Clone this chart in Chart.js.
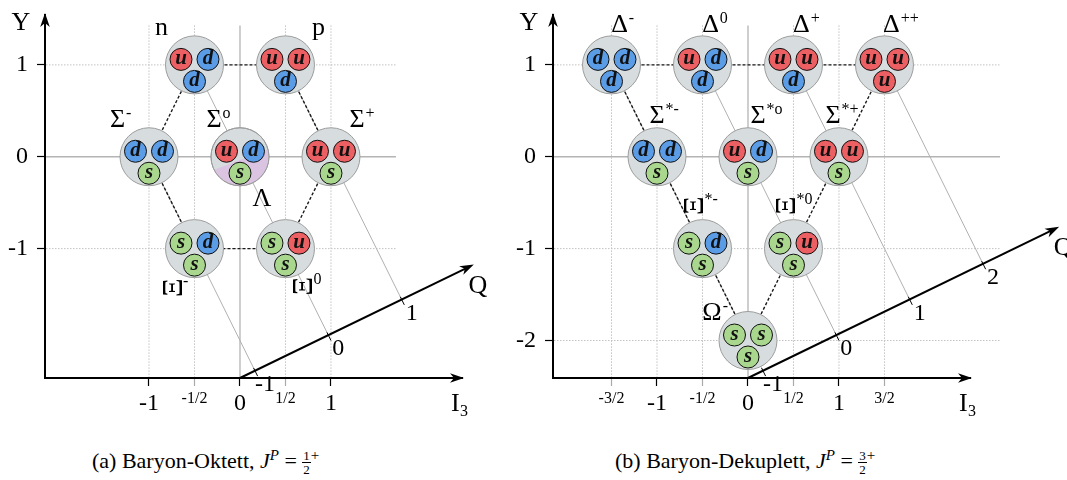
<!DOCTYPE html>
<html>
<head>
<meta charset="utf-8">
<script src="https://cdn.jsdelivr.net/npm/chart.js@4.4.1/dist/chart.umd.min.js"></script>
<style>
  html, body { margin: 0; padding: 0; background: #fff; }
  body { width: 1067px; height: 480px; position: relative; overflow: hidden; font-family: "Liberation Serif", serif; color: #000; }
  canvas { position: absolute; top: 0; }
  .cap { position: absolute; top: 449px; font-size: 22px; line-height: 22px; white-space: nowrap; }
  .cap sup { font-size: 15px; vertical-align: 8px; line-height: 0; }
  .frac { display: inline-block; vertical-align: -6px; text-align: center; font-size: 13px; line-height: 13px; }
  .frac span { display: block; padding: 0 1px; }
  .frac .num { border-bottom: 1px solid #000; }
</style>
</head>
<body>
<canvas id="octetChart" width="508" height="440" style="left:0"></canvas>
<canvas id="decupletChart" width="559" height="440" style="left:508px"></canvas>
<div class="cap" style="left:92px">(a) Baryon-Oktett, <i>J</i><sup><i>P</i></sup> = <span class="frac"><span class="num">1</span><span>2</span></span><sup>+</sup></div>
<div class="cap" style="left:615px">(b) Baryon-Dekuplett, <i>J</i><sup><i>P</i></sup> = <span class="frac"><span class="num">3</span><span>2</span></span><sup>+</sup></div>
<script>
// --- Baryon-Oktett ---
const octetNames = ['n', 'p', 'Σ', 'Σ', 'Σ', 'Ξ', 'Ξ'];
const octetSup = ['', '', '-', 'o', '+', '-', '0'];
const octetI3 = [-0.5, 0.5, -1, 0, 1, -0.5, 0.5];
const octetY = [1, 1, 0, 0, 0, -1, -1];
const octetQuarks = ['udd', 'uud', 'dds', 'uds', 'uus', 'sds', 'sus'];
const octetEdges = [[0, 1], [1, 4], [4, 6], [6, 5], [5, 2], [2, 0]];
const octetQTicks = [-1, 0, 1];
const octetXTicks = [-1, -0.5, 0, 0.5, 1];
const octetXLabels = ['-1', '-1/2', '0', '1/2', '1'];
const octetYTicks = [1, 0, -1];
const lambdaName = 'Λ';

// --- Baryon-Dekuplett ---
const decupletNames = ['Δ', 'Δ', 'Δ', 'Δ', 'Σ', 'Σ', 'Σ', 'Ξ', 'Ξ', 'Ω'];
const decupletSup = ['-', '0', '+', '++', '*-', '*o', '*+', '*-', '*0', '-'];
const decupletI3 = [-1.5, -0.5, 0.5, 1.5, -1, 0, 1, -0.5, 0.5, 0];
const decupletY = [1, 1, 1, 1, 0, 0, 0, -1, -1, -2];
const decupletQuarks = ['ddd', 'udd', 'uud', 'uuu', 'dds', 'uds', 'uus', 'sds', 'sus', 'sss'];
const decupletEdges = [[0, 1], [1, 2], [2, 3], [0, 4], [4, 7], [7, 9], [3, 6], [6, 8], [8, 9]];
const decupletQTicks = [-1, 0, 1, 2];
const decupletXTicks = [-1.5, -1, -0.5, 0, 0.5, 1, 1.5];
const decupletXLabels = ['-3/2', '-1', '-1/2', '0', '1/2', '1', '3/2'];
const decupletYTicks = [1, 0, -1, -2];

// Achsenbereich und Layout
const X_MIN = -2.143, X_MAX = 2.44, Y_MIN = -2.408, Y_MAX = 1.543;
const GRID_TOP = 1.43;
const Q_SLOPE = 0.481;           // Steigung der Q-Achse im (I3, Y)-System
const BIG_R = 29, SMALL_R = 11;
const QUARK_OFFSETS = [[-13.5, -5.5], [13.5, -5.5], [0, 16.5]];
const QUARK_COLORS = { u: '#ec5f63', d: '#5b9ce6', s: '#a9d78e' };
const SERIF = '"Liberation Serif", "Times New Roman", serif';

// Beschriftungs-Offsets (px) relativ zum Teilchen
const octetLabelPos = [[-33, -30], [33, -30], [-31.5, -30], [-26, -30], [26, -30], [-20.5, 39], [19, 37.5]];
const lambdaPos = [22, 49];
const decupletLabelPos = [[8, -33], [8, -33], [8, -33], [7, -33], [0, -34], [10, -34], [-6, -34], [-7, -43], [-6, -43], [-36, -21]];

function px(chart, x, y) {
    return [chart.scales.x.getPixelForValue(x), chart.scales.y.getPixelForValue(y)];
}

function arrowHead(ctx, x, y, ang) {
    ctx.save();
    ctx.translate(x, y);
    ctx.rotate(ang);
    ctx.beginPath();
    ctx.moveTo(1, 0);
    ctx.lineTo(-13, -4.8);
    ctx.lineTo(-9, 0);
    ctx.lineTo(-13, 4.8);
    ctx.closePath();
    ctx.fillStyle = '#000';
    ctx.fill();
    ctx.restore();
}

function drawLabel(ctx, name, sup, x, y, rotated) {
    ctx.fillStyle = '#000';
    if (rotated) {
        ctx.font = '29px ' + SERIF;
        ctx.save();
        ctx.translate(x, y);
        ctx.rotate(-Math.PI / 2);
        ctx.textAlign = 'center';
        ctx.textBaseline = 'middle';
        ctx.fillText(name, 0, 0);
        ctx.restore();
        ctx.font = '16px ' + SERIF;
        ctx.textAlign = 'left';
        ctx.textBaseline = 'alphabetic';
        ctx.fillText(sup, x + 9, y - 2);
        return;
    }
    ctx.font = '26px ' + SERIF;
    ctx.textAlign = 'center';
    ctx.textBaseline = 'alphabetic';
    ctx.fillText(name, x, y);
    const w = ctx.measureText(name).width;
    if (sup) {
        ctx.font = '16px ' + SERIF;
        ctx.textAlign = 'left';
        ctx.fillText(sup, x + w / 2 + 1, y - 9);
    }
}

const baryonPlugin = {
    id: 'baryon',
    beforeDatasetsDraw(chart, args, o) {
        const ctx = chart.ctx;
        const area = chart.chartArea;
        ctx.save();

        // Hilfsgitter
        o.yTicks.forEach(v => {
            const [x0, y] = px(chart, X_MIN, v);
            const [x1] = px(chart, o.gridRight, v);
            ctx.beginPath();
            ctx.setLineDash(v === 0 ? [] : [1.5, 1.5]);
            ctx.strokeStyle = v === 0 ? '#b4b4b4' : '#c2c2c2';
            ctx.lineWidth = v === 0 ? 1.3 : 1;
            ctx.moveTo(x0 + 1, y);
            ctx.lineTo(x1, y);
            ctx.stroke();
        });
        o.xTicks.forEach(v => {
            const [x, y0] = px(chart, v, GRID_TOP);
            ctx.beginPath();
            ctx.setLineDash(v === 0 ? [] : [1.5, 1.5]);
            ctx.strokeStyle = v === 0 ? '#b4b4b4' : '#c2c2c2';
            ctx.lineWidth = v === 0 ? 1.3 : 1;
            ctx.moveTo(x, y0);
            ctx.lineTo(x, area.bottom - 1);
            ctx.stroke();
        });
        ctx.setLineDash([]);

        // Linien konstanter Ladung Q = I3 + Y/2
        o.qTicks.forEach(q => {
            let top = -1;
            o.i3.forEach((x, i) => {
                if (Math.abs(x + o.y[i] / 2 - q) < 1e-6 && (top < 0 || o.y[i] > o.y[top])) top = i;
            });
            const qi = (q - Y_MIN / 2) / (1 + Q_SLOPE / 2);
            const [ax, ay] = px(chart, qi, Y_MIN + Q_SLOPE * qi);
            if (top >= 0) {
                const [sx, sy] = px(chart, o.i3[top], o.y[top]);
                ctx.beginPath();
                ctx.strokeStyle = '#b0b0b0';
                ctx.lineWidth = 1;
                ctx.moveTo(sx, sy);
                ctx.lineTo(ax, ay);
                ctx.stroke();
            }
            // kleiner Strich auf der Q-Achse
            const [dx, dy] = px(chart, qi + 1, Y_MIN + Q_SLOPE * qi - 2);
            const len = Math.hypot(dx - ax, dy - ay);
            const ux = (dx - ax) / len, uy = (dy - ay) / len;
            ctx.beginPath();
            ctx.strokeStyle = '#000';
            ctx.lineWidth = 1;
            ctx.moveTo(ax - 3 * ux, ay - 3 * uy);
            ctx.lineTo(ax + 6 * ux, ay + 6 * uy);
            ctx.stroke();
            ctx.fillStyle = '#000';
            ctx.font = '24px ' + SERIF;
            ctx.textAlign = 'center';
            ctx.textBaseline = 'middle';
            ctx.fillText(String(q), ax + 10, ay + 14);
        });

        // gestrichelte Multiplett-Kanten
        ctx.setLineDash([3, 2]);
        ctx.strokeStyle = '#1a1a1a';
        ctx.lineWidth = 1.4;
        o.edges.forEach(([a, b]) => {
            const [x0, y0] = px(chart, o.i3[a], o.y[a]);
            const [x1, y1] = px(chart, o.i3[b], o.y[b]);
            ctx.beginPath();
            ctx.moveTo(x0, y0);
            ctx.lineTo(x1, y1);
            ctx.stroke();
        });
        ctx.setLineDash([]);

        // Q-Achse
        const [qx0, qy0] = px(chart, 0, Y_MIN);
        const [qx1, qy1] = px(chart, o.qEnd, Y_MIN + Q_SLOPE * o.qEnd);
        ctx.beginPath();
        ctx.strokeStyle = '#000';
        ctx.lineWidth = 2;
        ctx.moveTo(qx0, qy0);
        ctx.lineTo(qx1 - 6, qy1 + 6 * (qy0 - qy1) / (qx1 - qx0));
        ctx.stroke();
        arrowHead(ctx, qx1, qy1, Math.atan2(qy1 - qy0, qx1 - qx0));
        ctx.font = '26px ' + SERIF;
        ctx.textAlign = 'center';
        ctx.textBaseline = 'middle';
        ctx.fillText('Q', qx1 + 5, qy1 + 21);
        ctx.restore();
    },
    afterDatasetsDraw(chart, args, o) {
        const ctx = chart.ctx;
        const area = chart.chartArea;
        ctx.save();

        // Λ-Anteil im Σ0-Kreis
        if (o.lambdaIndex >= 0) {
            const [cx, cy] = px(chart, o.i3[o.lambdaIndex], o.y[o.lambdaIndex]);
            ctx.save();
            ctx.beginPath();
            ctx.arc(cx, cy, BIG_R - 0.5, 0, Math.PI * 2);
            ctx.clip();
            ctx.translate(cx, cy);
            ctx.rotate(-0.36);
            ctx.fillStyle = '#dbc3e2';
            ctx.fillRect(-BIG_R - 4, 3, 2 * BIG_R + 8, BIG_R + 4);
            ctx.restore();
            ctx.beginPath();
            ctx.arc(cx, cy, BIG_R, 0, Math.PI * 2);
            ctx.strokeStyle = '#9c9c9c';
            ctx.lineWidth = 1;
            ctx.stroke();
        }

        // Quarks
        o.quarks.forEach((qs, i) => {
            const [cx, cy] = px(chart, o.i3[i], o.y[i]);
            qs.split('').forEach((q, k) => {
                const x = cx + QUARK_OFFSETS[k][0], y = cy + QUARK_OFFSETS[k][1];
                ctx.beginPath();
                ctx.arc(x, y, SMALL_R, 0, Math.PI * 2);
                ctx.fillStyle = QUARK_COLORS[q];
                ctx.fill();
                ctx.strokeStyle = '#111';
                ctx.lineWidth = 1;
                ctx.stroke();
                ctx.fillStyle = '#111';
                ctx.font = 'italic bold 21px ' + SERIF;
                ctx.textAlign = 'center';
                ctx.textBaseline = 'alphabetic';
                ctx.fillText(q, x, y + 5);
            });
        });

        // Teilchennamen
        o.names.forEach((n, i) => {
            const [cx, cy] = px(chart, o.i3[i], o.y[i]);
            drawLabel(ctx, n, o.sup[i], cx + o.labelPos[i][0], cy + o.labelPos[i][1], n === 'Ξ');
        });
        if (o.lambdaIndex >= 0) {
            const [cx, cy] = px(chart, o.i3[o.lambdaIndex], o.y[o.lambdaIndex]);
            drawLabel(ctx, lambdaName, '', cx + lambdaPos[0], cy + lambdaPos[1], false);
        }

        // Achsenpfeile und Achsentitel
        arrowHead(ctx, area.right + 1, area.bottom, 0);
        arrowHead(ctx, area.left, area.top - 1, -Math.PI / 2);
        ctx.fillStyle = '#000';
        ctx.font = '26px ' + SERIF;
        ctx.textAlign = 'center';
        ctx.textBaseline = 'middle';
        ctx.fillText('Y', area.left - 24, area.top + 8);
        ctx.textAlign = 'left';
        ctx.textBaseline = 'alphabetic';
        ctx.fillText('I', area.right - 11, area.bottom + 33);
        ctx.font = '16px ' + SERIF;
        ctx.fillText('3', area.right - 2, area.bottom + 38);
        ctx.restore();
    }
};

function renderMultiplet(canvasId, p) {
    const ctx = document.getElementById(canvasId).getContext('2d');
    return new Chart(ctx, {
        type: 'scatter',
        data: {
            datasets: [{
                data: p.i3.map((x, i) => ({ x: x, y: p.y[i] })),
                pointRadius: BIG_R,
                pointHoverRadius: BIG_R,
                backgroundColor: '#d7dddf',
                borderColor: '#9c9c9c',
                borderWidth: 1,
                clip: false
            }]
        },
        options: {
            responsive: false,
            animation: false,
            events: [],
            layout: { autoPadding: false, padding: { top: 15, right: p.padRight, bottom: 0, left: 0 } },
            plugins: {
                legend: { display: false },
                tooltip: { enabled: false },
                baryon: p
            },
            scales: {
                x: {
                    type: 'linear',
                    min: X_MIN,
                    max: X_MAX,
                    afterFit: (s) => { s.height = 62; s.paddingLeft = 0; s.paddingRight = 0; },
                    afterBuildTicks: (s) => { s.ticks = p.xTicks.map(v => ({ value: v })); },
                    ticks: {
                        autoSkip: false,
                        maxRotation: 0,
                        padding: 3,
                        color: '#000',
                        callback: (v) => p.xLabels[p.xTicks.indexOf(v)],
                        font: (c) => ({ family: SERIF, size: c.tick && !Number.isInteger(c.tick.value) ? 16 : 24 })
                    },
                    grid: {
                        drawOnChartArea: false,
                        tickLength: 8,
                        tickWidth: 1.2,
                        tickColor: (c) => c.tick && !Number.isInteger(c.tick.value) ? '#aaa' : '#000'
                    },
                    border: { color: '#000', width: 2 }
                },
                y: {
                    type: 'linear',
                    min: Y_MIN,
                    max: Y_MAX,
                    afterFit: (s) => { s.width = 45; s.paddingTop = 0; s.paddingBottom = 0; },
                    afterBuildTicks: (s) => { s.ticks = p.yTicks.map(v => ({ value: v })); },
                    ticks: {
                        autoSkip: false,
                        padding: 9,
                        color: '#000',
                        callback: (v) => String(v),
                        font: { family: SERIF, size: 24 }
                    },
                    grid: {
                        drawOnChartArea: false,
                        tickLength: 8,
                        tickWidth: 1.2,
                        tickColor: '#000'
                    },
                    border: { color: '#000', width: 2 }
                }
            }
        },
        plugins: [baryonPlugin]
    });
}

renderMultiplet('octetChart', {
    names: octetNames, sup: octetSup, i3: octetI3, y: octetY, quarks: octetQuarks,
    edges: octetEdges, qTicks: octetQTicks, xTicks: octetXTicks, xLabels: octetXLabels,
    yTicks: octetYTicks, labelPos: octetLabelPos, lambdaIndex: 3,
    qEnd: 2.56, gridRight: 1.714, padRight: 46
});

renderMultiplet('decupletChart', {
    names: decupletNames, sup: decupletSup, i3: decupletI3, y: decupletY, quarks: decupletQuarks,
    edges: decupletEdges, qTicks: decupletQTicks, xTicks: decupletXTicks, xLabels: decupletXLabels,
    yTicks: decupletYTicks, labelPos: decupletLabelPos, lambdaIndex: -1,
    qEnd: 3.41, gridRight: 2.77, padRight: 97
});
</script>
</body>
</html>
